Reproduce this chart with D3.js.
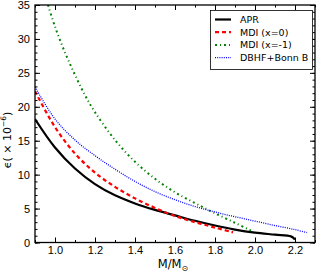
<!DOCTYPE html>
<html>
<head>
<meta charset="utf-8">
<script src="https://cdn.jsdelivr.net/npm/d3@7"></script>
<style>
  body { margin: 0; background: #fff; }
  svg { display: block; font-family: "DejaVu Sans", sans-serif; }
</style>
</head>
<body>
<svg id="chart" width="319" height="273"></svg>
<script>
var aprMass = [0.9, 1.0, 1.1, 1.2, 1.3, 1.4, 1.5, 1.6, 1.7, 1.8, 1.9, 2.0, 2.1, 2.18, 2.2];
var aprEps = [18.2, 14.0, 10.9, 8.6, 6.95, 5.75, 4.8, 4.0, 3.2, 2.5, 1.9, 1.45, 1.15, 0.9, 0.45];

var mdi0Mass = [0.9, 1.0, 1.1, 1.2, 1.3, 1.4, 1.5, 1.6, 1.7, 1.8, 1.89];
var mdi0Eps = [22.3, 17.0, 13.1, 10.3, 8.2, 6.5, 5.1, 3.9, 3.0, 2.2, 1.5];

var mdi1Mass = [0.965, 1.0, 1.05, 1.1, 1.15, 1.2, 1.3, 1.4, 1.5, 1.6, 1.7, 1.8, 1.9, 1.98];
var mdi1Eps = [35, 31.8, 28, 24.7, 21.7, 19.2, 15.1, 11.9, 9.4, 7.4, 5.8, 4.3, 2.9, 1.75];

var dbhfMass = [0.9, 1.0, 1.1, 1.2, 1.3, 1.4, 1.5, 1.6, 1.7, 1.8, 1.9, 2.0, 2.1, 2.2, 2.26];
var dbhfEps = [22.9, 18.2, 15.1, 12.8, 10.8, 9.0, 7.5, 6.3, 5.3, 4.5, 3.8, 3.15, 2.5, 1.9, 1.45];

var xTicks = [1.0, 1.2, 1.4, 1.6, 1.8, 2.0, 2.2];
var yTicks = [0, 5, 10, 15, 20, 25, 30, 35];

var seriesNames = ["APR", "MDI (x=0)", "MDI (x=-1)", "DBHF+Bonn B"];

(function () {
  var svg = d3.select("#chart");
  var left = 35, right = 315, top = 5, bottom = 242.5;

  var x = d3.scaleLinear().domain([0.9, 2.3]).range([left, right]);
  var y = d3.scaleLinear().domain([0, 35]).range([bottom, top]);

  var series = [
    { name: seriesNames[0], m: aprMass, e: aprEps, color: "#000", width: 2.2, dash: null },
    { name: seriesNames[1], m: mdi0Mass, e: mdi0Eps, color: "#ff0000", width: 2.2, dash: "4,3" },
    { name: seriesNames[2], m: mdi1Mass, e: mdi1Eps, color: "#008000", width: 2, dash: "2,3,1,3" },
    { name: seriesNames[3], m: dbhfMass, e: dbhfEps, color: "#0000ff", width: 1.3, dash: "1,1.2" }
  ];

  svg.append("clipPath").attr("id", "clip").append("rect")
    .attr("x", left).attr("y", top).attr("width", right - left).attr("height", bottom - top);

  var line = d3.line().curve(d3.curveCatmullRom.alpha(0.5));
  var g = svg.append("g").attr("clip-path", "url(#clip)");
  series.forEach(function (s) {
    var pts = s.m.map(function (m, i) { return [x(m), y(s.e[i])]; });
    g.append("path").attr("d", line(pts))
      .attr("fill", "none").attr("stroke", s.color)
      .attr("stroke-width", s.width)
      .attr("stroke-dasharray", s.dash);
  });

  // axes with inward ticks on all sides
  var xMinor = d3.range(0.9, 2.31, 0.1).map(function (v) { return Math.round(v * 10) / 10; });
  var yMinor = d3.range(0, 36, 1);

  function axisGroup(axis, tx, ty) {
    var a = svg.append("g").attr("transform", "translate(" + tx + "," + ty + ")").call(axis);
    a.select(".domain").remove();
    a.selectAll("line").attr("stroke", "#000").attr("stroke-width", 1);
    return a;
  }

  var xb = axisGroup(d3.axisBottom(x).tickValues(xTicks).tickSize(-5).tickPadding(4).tickFormat(d3.format(".1f")), 0, bottom);
  xb.selectAll("text").attr("font-size", 11).attr("fill", "#000");
  axisGroup(d3.axisBottom(x).tickValues(xMinor).tickSize(-2.5).tickFormat(""), 0, bottom);
  axisGroup(d3.axisTop(x).tickValues(xTicks).tickSize(-5).tickFormat(""), 0, top);
  axisGroup(d3.axisTop(x).tickValues(xMinor).tickSize(-2.5).tickFormat(""), 0, top);

  var yl = axisGroup(d3.axisLeft(y).tickValues(yTicks).tickSize(-5).tickPadding(5).tickFormat(d3.format("d")), left, 0);
  yl.selectAll("text").attr("font-size", 11).attr("fill", "#000");
  axisGroup(d3.axisLeft(y).tickValues(yMinor).tickSize(-2.5).tickFormat(""), left, 0);
  axisGroup(d3.axisRight(y).tickValues(yTicks).tickSize(-5).tickFormat(""), right, 0);
  axisGroup(d3.axisRight(y).tickValues(yMinor).tickSize(-2.5).tickFormat(""), right, 0);

  svg.append("rect").attr("x", left).attr("y", top)
    .attr("width", right - left).attr("height", bottom - top)
    .attr("fill", "none").attr("stroke", "#000").attr("stroke-width", 1.3);

  // axis labels
  var xl = svg.append("text").attr("x", 173).attr("y", 268)
    .attr("text-anchor", "middle").attr("font-size", 11.5).attr("fill", "#000");
  xl.append("tspan").text("M/M");
  xl.append("tspan").attr("font-size", 8).attr("dy", 3).text("\u2299");

  var ylab = svg.append("text").attr("transform", "translate(11,140) rotate(-90)")
    .attr("text-anchor", "middle").attr("font-size", 11).attr("fill", "#000");
  ylab.append("tspan").text("\u03f5( \u00d7 10");
  ylab.append("tspan").attr("font-size", 7.5).attr("dy", -5).text("\u22126");
  ylab.append("tspan").attr("dy", 5).text(")");

  // legend
  var lg = svg.append("g");
  lg.append("rect").attr("x", 210.5).attr("y", 10.5).attr("width", 102).attr("height", 59)
    .attr("fill", "#fff").attr("stroke", "#000").attr("stroke-width", 0.8);
  series.forEach(function (s, i) {
    var yy = 19.5 + i * 12.7;
    lg.append("line").attr("x1", 215).attr("x2", 231).attr("y1", yy).attr("y2", yy)
      .attr("stroke", s.color).attr("stroke-width", s.width).attr("stroke-dasharray", s.dash);
    lg.append("text").attr("x", 240).attr("y", yy + 3.5).attr("font-size", 9.5)
      .attr("fill", "#000").text(s.name);
  });
})();
</script>
</body>
</html>
